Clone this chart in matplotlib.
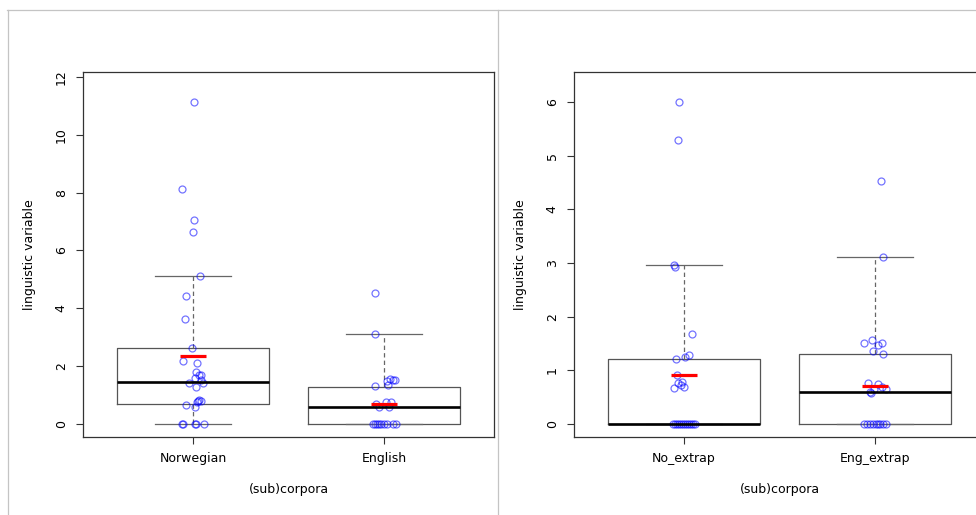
import matplotlib.pyplot as plt
import numpy as np
from matplotlib.lines import Line2D

plt.rcParams['font.family'] = 'DejaVu Sans'

# Groups and data (value, x jitter in box-width units)
groups_left = ["Norwegian", "English"]
groups_right = ["No_extrap", "Eng_extrap"]

norwegian = [11.15, 8.12, 7.04, 6.63, 5.12, 4.43, 3.62, 2.62, 2.17, 2.10,
             1.81, 1.70, 1.68, 1.60, 1.52, 1.43, 1.41, 1.29,
             0.83, 0.81, 0.79, 0.75, 0.66, 0.60, 0, 0, 0, 0, 0]
norwegian_jit = [0.005, -0.056, 0.005, -0.002, 0.037, -0.037, -0.043, -0.007, -0.051, 0.023,
                 0.016, 0.031, 0.040, 0.010, 0.043, -0.023, 0.054, 0.017,
                 0.031, 0.043, 0.026, 0.021, -0.035, 0.010, -0.059, -0.051, 0.010, 0.017, 0.058]

english = [4.53, 3.11, 1.55, 1.52, 1.52, 1.49, 1.34, 1.30,
           0.75, 0.75, 0.69, 0.60, 0.58, 0, 0, 0, 0, 0, 0, 0, 0, 0]
english_jit = [-0.047, -0.047, 0.031, 0.046, 0.058, 0.017, 0.019, -0.047,
               0.009, 0.037, -0.042, -0.026, 0.026,
               -0.058, -0.047, -0.037, -0.026, -0.016, 0.0, 0.016, 0.047, 0.063]

no_extrap = [6.01, 5.30, 2.96, 2.93, 1.67, 1.29, 1.25, 1.21, 0.91,
             0.79, 0.76, 0.73, 0.70, 0.68, 0, 0, 0, 0, 0, 0, 0, 0, 0, 0, 0, 0]
no_extrap_jit = [-0.025, -0.033, -0.054, -0.046, 0.043, 0.028, 0.004, -0.043, -0.037,
                 -0.012, -0.033, -0.017, 0.002, -0.054,
                 -0.058, -0.047, -0.037, -0.026, -0.016, -0.005, 0.005, 0.016, 0.026, 0.037, 0.047, 0.058]

eng_extrap = [4.53, 3.11, 1.56, 1.52, 1.52, 1.47, 1.36, 1.30,
              0.77, 0.75, 0.70, 0.66, 0.66, 0.60, 0.58, 0, 0, 0, 0, 0, 0, 0, 0, 0]
eng_extrap_jit = [0.031, 0.040, -0.016, -0.056, 0.037, 0.014, -0.012, 0.042,
                  -0.038, 0.017, 0.035, 0.058, -0.005, -0.026, -0.021,
                  -0.058, -0.042, -0.026, -0.010, 0.005, 0.016, 0.026, 0.042, 0.058]

# box statistics
left_q1 = [0.68, 0.0]
left_med = [1.46, 0.58]
left_q3 = [2.62, 1.29]
left_whislo = [0.0, 0.0]
left_whishi = [5.12, 3.10]
left_mean = [2.35, 0.69]

right_q1 = [0.0, 0.0]
right_med = [0.0, 0.59]
right_q3 = [1.21, 1.30]
right_whislo = [0.0, 0.0]
right_whishi = [2.96, 3.11]
right_mean = [0.91, 0.71]

left_ticks = [0, 2, 4, 6, 8, 10, 12]
right_ticks = [0, 1, 2, 3, 4, 5, 6]


def draw_panel(ax, names, q1, med, q3, lo, hi, means, pts, jits, ylim, yticks):
    stats = []
    for i, n in enumerate(names):
        stats.append(dict(label=n, q1=q1[i], med=med[i], q3=q3[i],
                          whislo=lo[i], whishi=hi[i], fliers=[]))
    ax.bxp(stats, positions=[1, 2], widths=0.8, showfliers=False,
           boxprops=dict(color='#555555', linewidth=0.9),
           medianprops=dict(color='black', linewidth=1.9, solid_capstyle='butt'),
           whiskerprops=dict(color='#666666', linewidth=0.9, linestyle=(0, (3.5, 2.5))),
           capprops=dict(color='#666666', linewidth=0.9),
           capwidths=0.4)
    for i, (vals, jit) in enumerate(zip(pts, jits)):
        x = (i + 1) + np.array(jit)
        ax.plot(x, vals, 'o', ms=5, mfc='none', mec=(0, 0, 1, 0.55), mew=0.9)
    ax.hlines(means, np.arange(1, 3) - 0.07, np.arange(1, 3) + 0.07,
              colors='red', linewidth=2.3)
    ax.set_xlim(0.424, 2.576)
    ax.set_ylim(*ylim)
    ax.set_yticks(yticks)
    ax.set_xticks([1, 2])
    ax.set_xticklabels(names)
    ax.tick_params(axis='both', length=5, width=0.8, color='#333333', labelsize=9, pad=6)
    for lab in ax.get_yticklabels():
        lab.set_rotation(90)
        lab.set_va('center')
    for s in ax.spines.values():
        s.set_color('#333333')
        s.set_linewidth(0.9)
    ax.set_ylabel('linguistic variable', fontsize=9, va='center')
    ax.yaxis.set_label_coords(-0.129, 0.5)
    ax.set_xlabel('(sub)corpora', fontsize=9)
    ax.xaxis.set_label_coords(0.5, -0.145)
    ax.xaxis.label.set_va('center')


fig = plt.figure(figsize=(9.76, 5.15), dpi=100)
ax1 = fig.add_axes([83 / 976, 1 - 437 / 515, 411 / 976, 365 / 515])
ax2 = fig.add_axes([574 / 976, 1 - 437 / 515, 411 / 976, 365 / 515])

draw_panel(ax1, groups_left, left_q1, left_med, left_q3, left_whislo, left_whishi,
           left_mean, [norwegian, english], [norwegian_jit, english_jit],
           (-0.45, 12.17), left_ticks)
draw_panel(ax2, groups_right, right_q1, right_med, right_q3, right_whislo, right_whishi,
           right_mean, [no_extrap, eng_extrap], [no_extrap_jit, eng_extrap_jit],
           (-0.24, 6.56), right_ticks)

# screenshot panel frames
frame = '#c4c4c4'
fig.add_artist(Line2D([7 / 976, 1], [1 - 9.5 / 515] * 2, color=frame, lw=0.9))
fig.add_artist(Line2D([7.5 / 976] * 2, [0, 1 - 9.5 / 515], color=frame, lw=0.9))
fig.add_artist(Line2D([498 / 976] * 2, [0, 1 - 9.5 / 515], color=frame, lw=0.9))

fig.savefig('out.png', dpi=100)
